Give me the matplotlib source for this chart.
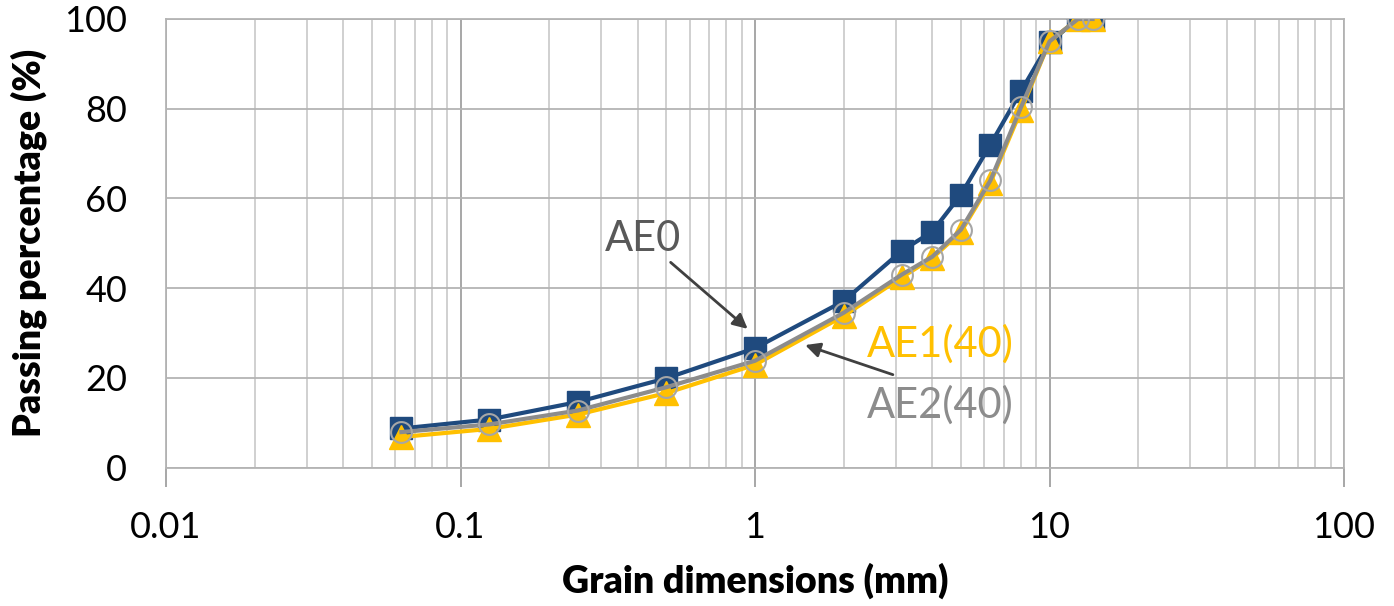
import numpy as np
import matplotlib
matplotlib.use('Agg')
import matplotlib.pyplot as plt
from matplotlib.ticker import FixedLocator, NullFormatter

# sieve sizes (mm) and passing percentages
sieves = [0.063, 0.125, 0.25, 0.5, 1, 2, 3.15, 4, 5, 6.3, 8, 10, 12.5, 14]
ae0 = [8.7, 10.7, 14.6, 19.9, 26.6, 37.1, 48.3, 52.6, 60.8, 72.0, 83.9, 94.8, 100, 100]
ae1 = [6.8, 8.6, 11.8, 16.6, 22.9, 33.8, 42.4, 46.7, 52.5, 63.5, 79.6, 95.0, 100, 100]
ae2 = [7.9, 9.6, 12.7, 17.9, 23.8, 34.5, 43.0, 47.0, 53.0, 64.0, 80.3, 95.0, 100, 100]

x_ticks = [0.01, 0.1, 1, 10, 100]
x_tick_labels = ['0.01', '0.1', '1', '10', '100']
y_ticks = [0, 20, 40, 60, 80, 100]

plt.rcParams['font.family'] = ['Lato', 'DejaVu Sans']

fig = plt.figure(figsize=(13.94, 6.06), dpi=100)
ax = fig.add_axes([166 / 1394, 1 - 467.5 / 606, (1344 - 166) / 1394, (467.5 - 19) / 606])

blue = '#1f4a7e'
gold = '#ffc000'
grey = '#8c8c8c'

ax.plot(sieves, ae0, color=blue, lw=3, marker='s', ms=15.5, mfc=blue, mec=blue, zorder=3)
ax.plot(sieves, ae1, color=gold, lw=3, marker='^', ms=17, mfc=gold, mec=gold, zorder=4)
ax.plot(sieves, ae2, color=grey, lw=3, marker='o', ms=15, mfc='none', mec='#a6a6a6',
        mew=1.5, zorder=5)

ax.set_xscale('log')
ax.set_xlim(0.01, 100)
ax.set_ylim(0, 100)
ax.xaxis.set_major_locator(FixedLocator(x_ticks))
ax.set_xticklabels(x_tick_labels)
minor = [m * 10.0 ** e for e in range(-2, 2) for m in range(2, 10)]
ax.xaxis.set_minor_locator(FixedLocator(minor))
ax.xaxis.set_minor_formatter(NullFormatter())
ax.set_yticks(y_ticks)

ax.grid(which='major', axis='x', color='#a0a0a0', lw=1.3)
ax.grid(which='minor', axis='x', color='#c8c8c8', lw=1.2)
ax.grid(which='major', axis='y', color='#b4b4b4', lw=1.3)
ax.set_axisbelow(True)

for s in ax.spines.values():
    s.set_color('#b4b4b4')
    s.set_linewidth(1.3)
ax.tick_params(axis='x', which='major', length=14, width=1.3, color='#a0a0a0',
               labelsize=26, pad=17)
ax.tick_params(axis='x', which='minor', length=0)
ax.tick_params(axis='y', length=0, labelsize=26, pad=28)

ax.set_xlabel('Grain dimensions (mm)', fontsize=27, fontweight='heavy', labelpad=14)
ax.set_ylabel('Passing percentage (%)', fontsize=27, fontweight='heavy', labelpad=12)

arrow = dict(arrowstyle='-|>', color='#404040', lw=2, mutation_scale=22)
ax.annotate('AE0', xy=(0.96, 30.5), xytext=(0.31, 51), fontsize=30, color='#595959',
            ha='left', va='center', arrowprops=arrow)
ax.annotate('', xy=(1.45, 27.5), xytext=(3.0, 20.5), arrowprops=arrow)
ax.text(2.4, 27.5, 'AE1(40)', fontsize=30, color=gold, ha='left', va='center')
ax.text(2.4, 14, 'AE2(40)', fontsize=30, color='#8c8c8c', ha='left', va='center')

fig.savefig('out.png', dpi=100)
